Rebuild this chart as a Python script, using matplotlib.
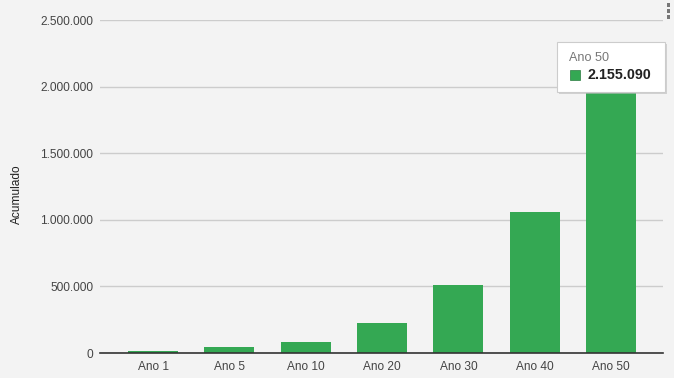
import matplotlib
matplotlib.use("Agg")
import matplotlib.pyplot as plt
from matplotlib.patches import Rectangle

categories = ["Ano 1", "Ano 5", "Ano 10", "Ano 20", "Ano 30", "Ano 40", "Ano 50"]
values = [18000, 47000, 85000, 228000, 512000, 1060000, 2155090]
yticks = [0, 500000, 1000000, 1500000, 2000000, 2500000]

def fmt(v):
    return f"{v:,.0f}".replace(",", ".")

plt.rcParams['font.family'] = ['Liberation Sans', 'DejaVu Sans']
BG = "#f3f3f3"
GREEN = "#34a853"

fig = plt.figure(figsize=(6.74, 3.78), dpi=100, facecolor=BG)
ax = fig.add_axes([100/674, 1-353/378, 563/674, 333/378], facecolor=BG)

x = list(range(len(categories)))
ax.bar(x, values, width=0.655, color=GREEN, zorder=3)

ax.set_ylim(0, 2500000)
ax.set_xlim(-0.695, 6.68)
ax.set_yticks(yticks)
ax.set_yticklabels([fmt(v) for v in yticks])
ax.set_xticks(x)
ax.set_xticklabels(categories)
ax.tick_params(axis='both', length=0, labelsize=8.6, labelcolor="#444444")
ax.tick_params(axis='y', pad=5)
ax.tick_params(axis='x', pad=6)
ax.grid(axis='y', color="#cccccc", linewidth=1, zorder=0)
for s in ["top", "right", "left"]:
    ax.spines[s].set_visible(False)
ax.spines["bottom"].set_color("#333333")
ax.spines["bottom"].set_linewidth(1.2)
ax.spines["bottom"].set_zorder(4)

fig.text(17/674, 1-194/378, "Acumulado", rotation=90, ha="center", va="center",
         fontsize=8.6, color="#222222")

def px(xp, yp):
    return (xp/674, 1-yp/378)

# tooltip
fig.patches.append(Rectangle(px(559, 94), 108/674, 50/378, transform=fig.transFigure,
                             facecolor="#bbbbbb", edgecolor="none", alpha=0.6, zorder=9))
fig.patches.append(Rectangle(px(557, 92), 108/674, 50/378, transform=fig.transFigure,
                             facecolor="white", edgecolor="#cccccc", linewidth=0.8, zorder=10))
fig.text(*px(569, 58), categories[-1], ha="left", va="center", fontsize=9.1,
         color="#777777", zorder=11)
fig.patches.append(Rectangle(px(570, 80), 10/674, 10/378, transform=fig.transFigure,
                             facecolor=GREEN, edgecolor="#2a7a40", linewidth=0.5, zorder=11))
fig.text(*px(587, 75), fmt(values[-1]), ha="left", va="center", fontsize=10.3,
         fontweight="bold", color="#222222", zorder=11)

# menu dots
for yy in [5, 11, 17]:
    fig.patches.append(Rectangle(px(666.5, yy + 1.5), 3.5/674, 3.5/378, transform=fig.transFigure,
                                 facecolor="#777777", edgecolor="none", zorder=11))

fig.savefig("out.png", dpi=100, facecolor=BG)
